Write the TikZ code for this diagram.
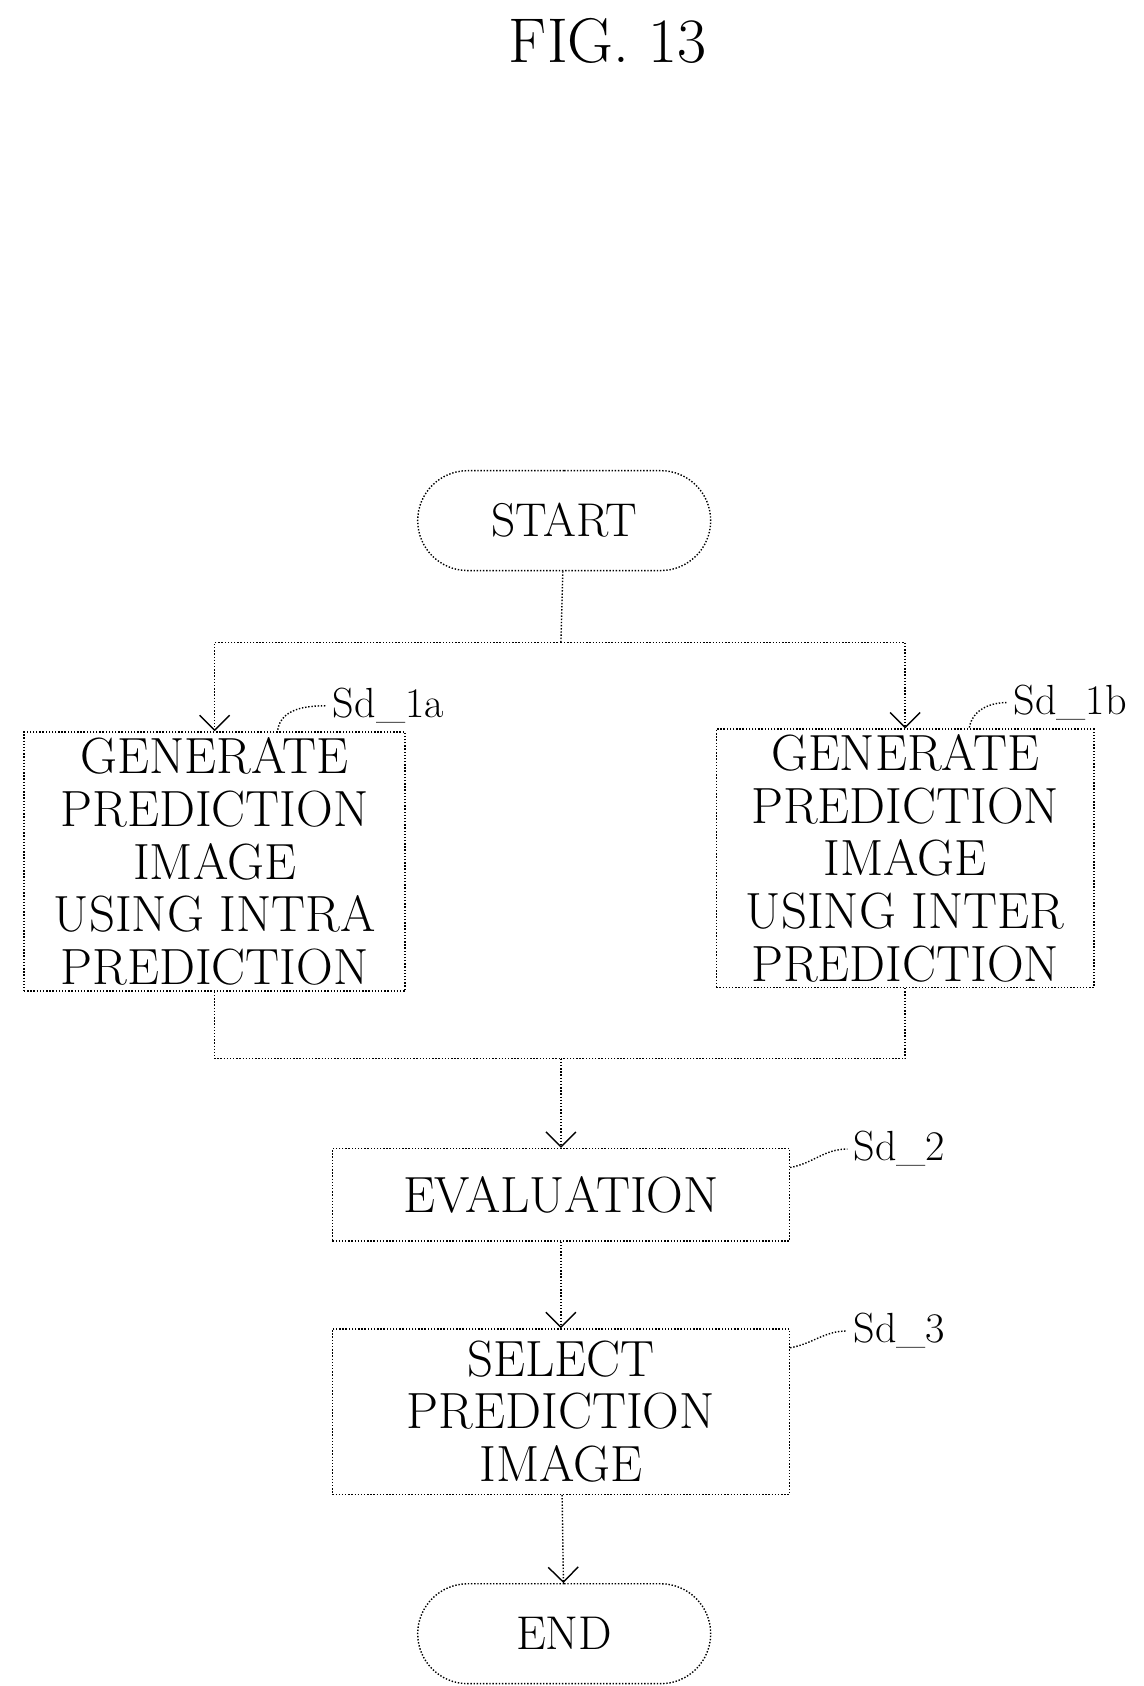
\documentclass[tikz,border=0pt]{standalone}
\usepackage{tikz}
\usetikzlibrary{positioning}
\usetikzlibrary{shapes.misc}
\usetikzlibrary{arrows.meta}

\tikzset{
    stepbox/.style={draw, thick, densely dotted, align=center, inner sep=1pt, font=\fontsize{29}{30}\selectfont},
    terminal/.style={draw, thick, densely dotted, rounded rectangle, minimum width=6.1cm, minimum height=2.0cm, font=\fontsize{27}{30}\selectfont},
    flow/.style={thick, densely dotted},
    tag/.style={font=\fontsize{24}{29}\selectfont, anchor=west}
}

\begin{document}
\begin{tikzpicture}[x=0.0218cm, y=-0.0218cm]

    \useasboundingbox (0,0) rectangle (1050,1548);

    \draw (558,38) node[font=\fontsize{36}{40}\selectfont] (Title) {FIG. 13};

    \draw (518,478) node[terminal] (Start) {START};

    \draw (197,791) node[stepbox, minimum width=7.63cm, minimum height=5.19cm] (Intra) {GENERATE\\PREDICTION\\IMAGE\\USING INTRA\\PREDICTION};

    \draw (831,788) node[stepbox, minimum width=7.56cm, minimum height=5.17cm] (Inter) {GENERATE\\PREDICTION\\IMAGE\\USING INTER\\PREDICTION};

    \draw (515,1097) node[stepbox, minimum width=9.15cm, minimum height=1.85cm] (Evaluation) {EVALUATION};

    \draw (515,1296) node[stepbox, minimum width=9.15cm, minimum height=3.31cm] (Select) {SELECT\\PREDICTION\\IMAGE};

    \draw (518,1500) node[terminal] (End) {END};

    % branch
    \coordinate (Split) at (515,590);
    \coordinate (Merge) at (515,972);
    \draw[flow] (Start) -- (Split);
    \draw[flow, -{Straight Barb[length=3mm]}] (Split) -| (Intra.north);
    \draw[flow, -{Straight Barb[length=3mm]}] (Split) -| (Inter.north);
    \draw[flow] (Intra.south) |- (Merge);
    \draw[flow] (Inter.south) |- (Merge);
    \draw[flow, -{Straight Barb[length=3mm]}] (Merge) -- (Evaluation);
    \draw[flow, -{Straight Barb[length=3mm]}] (Evaluation) -- (Select);
    \draw[flow, -{Straight Barb[length=3mm]}] (Select) -- (End);

    % step labels
    \draw (300,648) node[tag] (Sd1a) {Sd\_1a};
    \draw[flow] (255,670) to[out=80, in=180] (Sd1a.west);
    \draw (925,645) node[tag] (Sd1b) {Sd\_1b};
    \draw[flow] (890,668) to[out=80, in=180] (Sd1b.west);
    \draw (778,1055) node[tag] (Sd2) {Sd\_2};
    \draw[flow] (Evaluation.north east) ++(0,18) to[out=10, in=180] (Sd2.west);
    \draw (778,1222) node[tag] (Sd3) {Sd\_3};
    \draw[flow] (Select.north east) ++(0,18) to[out=10, in=180] (Sd3.west);

\end{tikzpicture}
\end{document}
